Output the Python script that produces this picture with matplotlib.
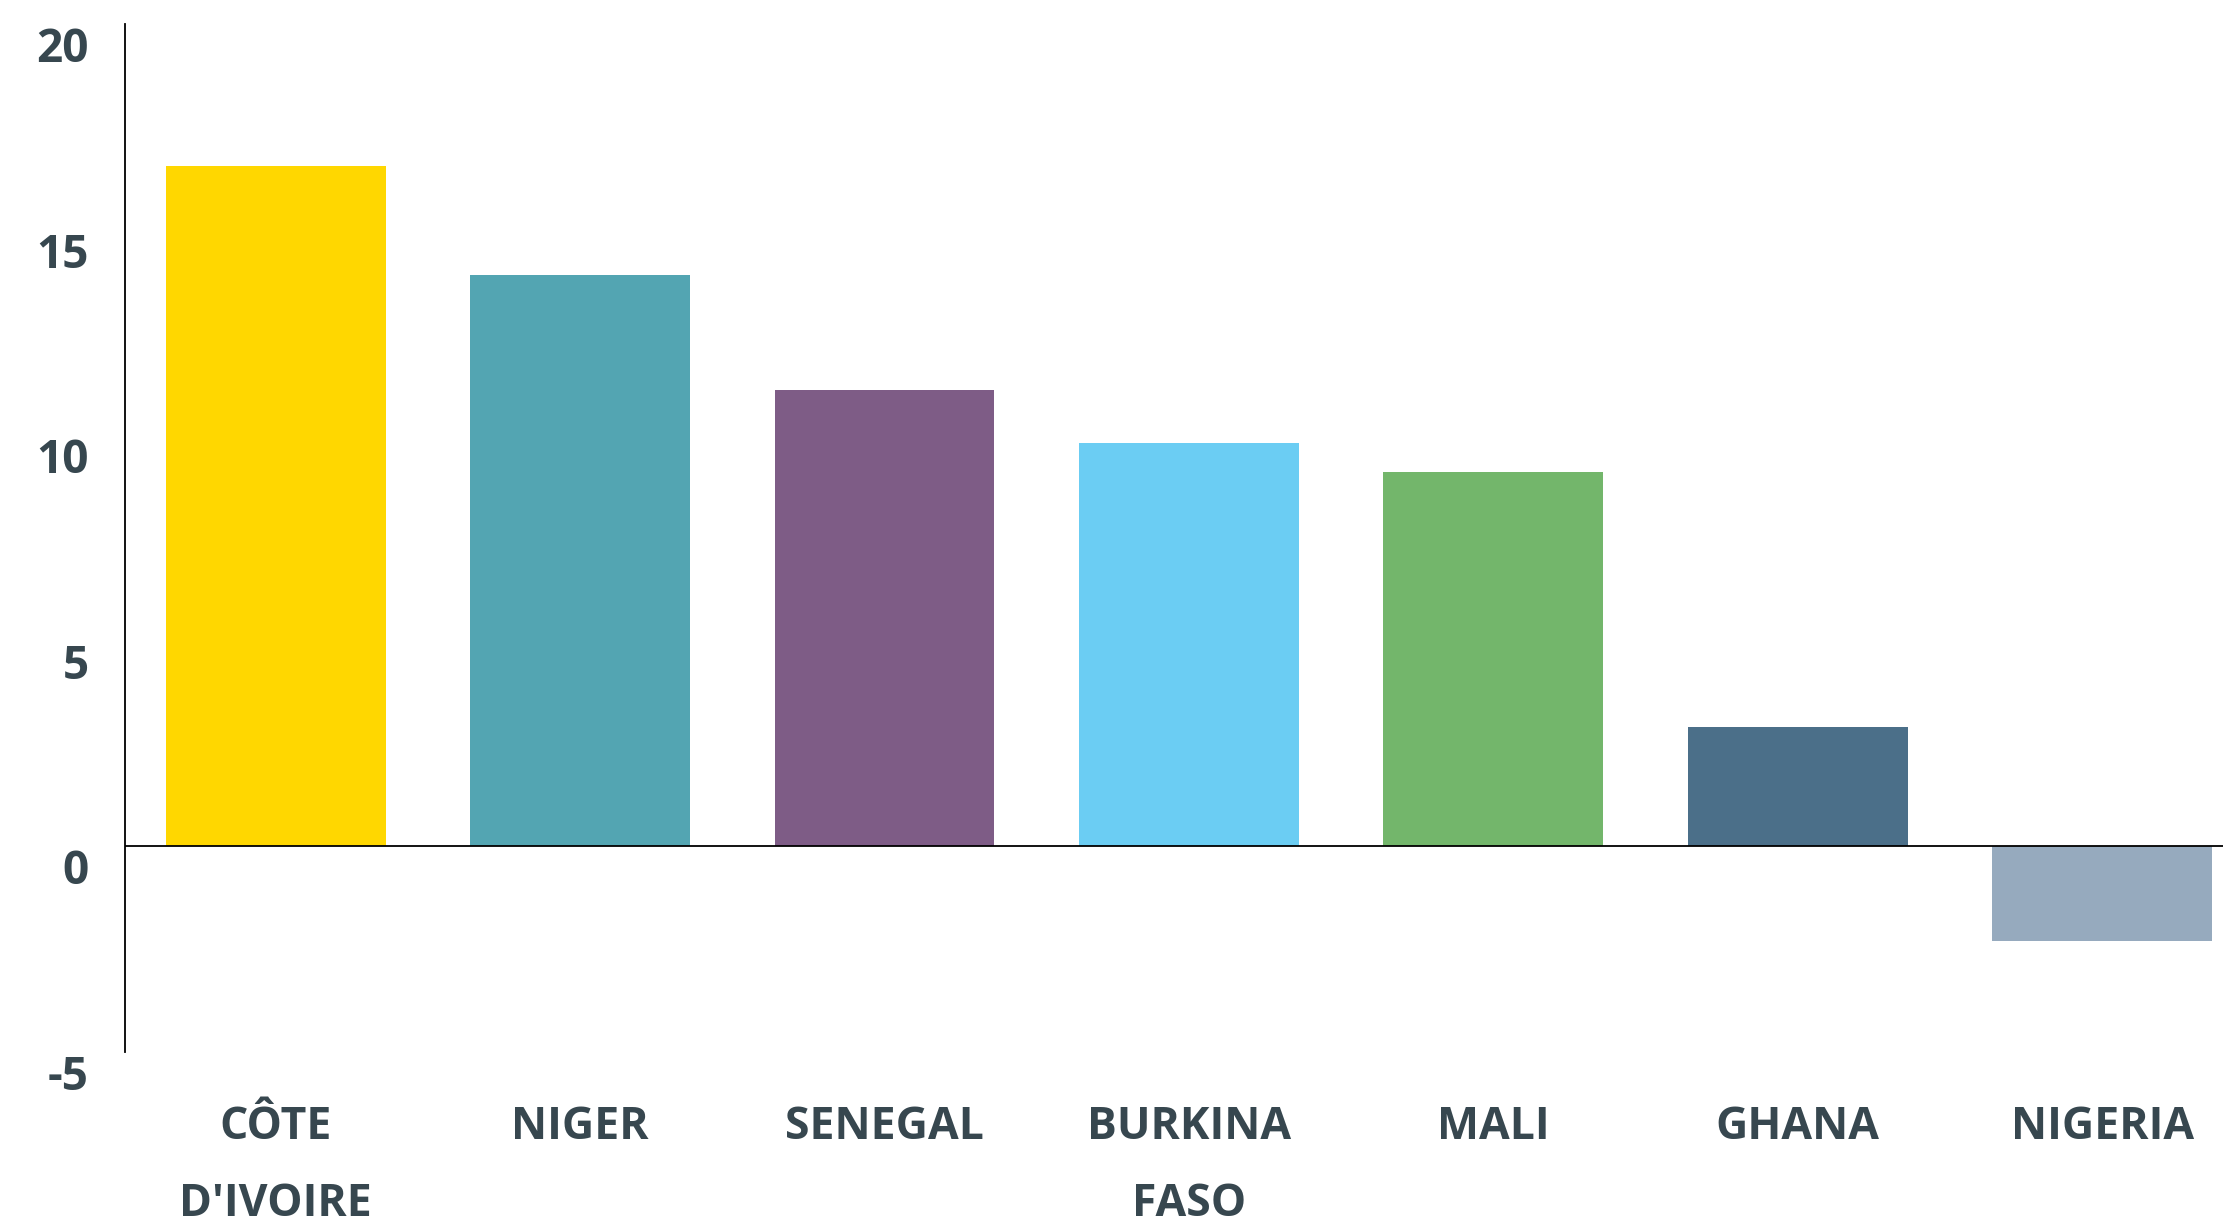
import matplotlib.pyplot as plt
import matplotlib.transforms as mtransforms

countries = ["CÔTE\nD'IVOIRE", "NIGER", "SENEGAL", "BURKINA\nFASO", "MALI", "GHANA", "NIGERIA"]
values = [16.55, 13.9, 11.1, 9.8, 9.1, 2.9, -2.3]
colors = ["#FFD700", "#53A5B2", "#7E5C86", "#6BCDF3", "#73B66B", "#4B6F89", "#96AABE"]
yticks = [-5, 0, 5, 10, 15, 20]

text_color = "#37474F"
plt.rcParams["font.family"] = ["Open Sans", "DejaVu Sans"]

fig = plt.figure(figsize=(22.23, 12.2), dpi=100)
ax = fig.add_axes([0.0561, 0.1377, 0.9439, 0.8426])

x = range(len(countries))
ax.bar(x, values, width=0.722, color=colors, zorder=2)
ax.axhline(0, color="black", linewidth=1.3, zorder=3)

ax.set_xlim(-0.496, 6.397)
ax.set_ylim(-5, 20)

for side in ["top", "right", "bottom"]:
    ax.spines[side].set_visible(False)
ax.spines["left"].set_linewidth(1.3)
ax.spines["left"].set_color("black")

ax.set_yticks(yticks)
ax.set_yticklabels([str(v) for v in yticks], fontsize=33)
ax.set_xticks(list(x))
ax.set_xticklabels(countries, linespacing=1.95, fontsize=32)
ax.tick_params(axis="both", length=0, labelcolor=text_color)
ax.tick_params(axis="y", pad=26)
ax.tick_params(axis="x", pad=38)

for lbl in ax.get_yticklabels() + ax.get_xticklabels():
    lbl.set_fontweight("bold")

# nudge y labels down so they sit just under their values
offset = mtransforms.ScaledTranslation(0, -20 / 100, fig.dpi_scale_trans)
for lbl in ax.get_yticklabels():
    lbl.set_transform(lbl.get_transform() + offset)

fig.savefig("out.png", dpi=100, facecolor="white")
